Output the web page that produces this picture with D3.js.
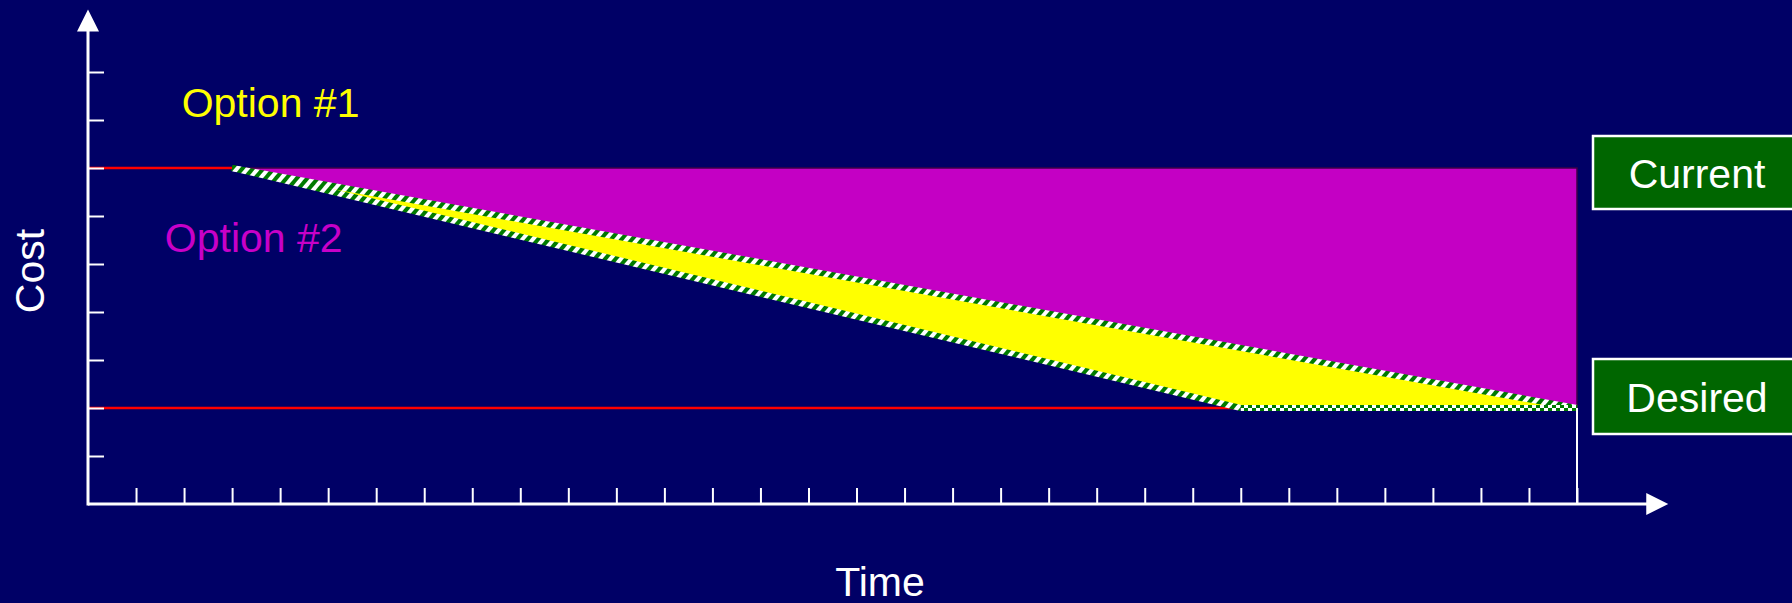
<!DOCTYPE html>
<html>
<head>
<meta charset="utf-8">
<script src="https://cdn.jsdelivr.net/npm/d3@7"></script>
<style>
  html, body { margin: 0; padding: 0; background: #000066; }
  svg { display: block; }
  text { font-family: "Liberation Sans", Arial, sans-serif; }
</style>
</head>
<body>
<svg width="1792" height="603"></svg>
<script>
// values (time units along x, cost units along y)
var timeTicks = [1, 2, 3, 4, 5, 6, 7, 8, 9, 10, 11, 12, 13, 14, 15, 16,
                 17, 18, 19, 20, 21, 22, 23, 24, 25, 26, 27, 28, 29, 30, 31];
var costTicks = [1, 2, 3, 4, 5, 6, 7, 8, 9];
var currentCost = 7;
var desiredCost = 2;
var currentLine = [{t: 0, c: 7}, {t: 3, c: 7}];
var desiredLine = [{t: 0, c: 2}, {t: 24, c: 2}];
var option1 = [{t: 3, c: 7}, {t: 31, c: 2}];
var option2 = [{t: 3, c: 7}, {t: 24, c: 2}, {t: 31, c: 2}];
var currentArea = [{t: 3, c: 7}, {t: 31, c: 7}, {t: 31, c: 2}];
var dropLine = [{t: 31, c: 2}, {t: 31, c: 0}];
var axisEnd = {t: 32.9, c: 10.3};
var optionLabels = [
  {text: "Option #1", t: 1.95, c: 8.06, color: "#ffff00"},
  {text: "Option #2", t: 1.6, c: 5.25, color: "#c800c8"}
];
var targetLabels = [
  {text: "Current", c: currentCost},
  {text: "Desired", c: desiredCost}
];

var svg = d3.select("svg");

var x = d3.scaleLinear().domain([0, 31]).range([88, 1577]);
var y = d3.scaleLinear().domain([0, 10]).range([504, 24]);

var line = d3.line()
    .x(function(d) { return x(d.t); })
    .y(function(d) { return y(d.c); });

var defs = svg.append("defs");

// rope-like green/white stripes for the sloped option lines
var rope = defs.append("pattern")
    .attr("id", "rope")
    .attr("patternUnits", "userSpaceOnUse")
    .attr("width", 8)
    .attr("height", 8)
    .attr("patternTransform", "rotate(40)");
rope.append("rect").attr("width", 8).attr("height", 8).attr("fill", "#007a00");
rope.append("rect").attr("width", 4).attr("height", 8).attr("fill", "#ffffff");

// checker pattern for the flat part
var checker = defs.append("pattern")
    .attr("id", "checker")
    .attr("patternUnits", "userSpaceOnUse")
    .attr("x", 0)
    .attr("y", y(desiredCost) - 3)
    .attr("width", 8)
    .attr("height", 6);
checker.append("rect").attr("width", 8).attr("height", 6).attr("fill", "#ffffff");
checker.append("rect").attr("width", 4).attr("height", 3).attr("fill", "#007a00");
checker.append("rect").attr("x", 4).attr("y", 3).attr("width", 4).attr("height", 3).attr("fill", "#007a00");

// magenta area (option #2 savings) and yellow area (between options)
svg.append("path")
    .datum(currentArea)
    .attr("d", function(d) { return line(d) + "Z"; })
    .attr("fill", "#c400c4")
    .attr("stroke", "#3c0048")
    .attr("stroke-width", 1.5);

svg.append("path")
    .datum(option1.concat(option2.slice().reverse()))
    .attr("d", function(d) { return line(d) + "Z"; })
    .attr("fill", "#ffff00");

// red reference lines
[currentLine, desiredLine].forEach(function(d) {
  svg.append("path")
      .datum(d)
      .attr("d", line)
      .attr("fill", "none")
      .attr("stroke", "#ff0000")
      .attr("stroke-width", 2.5);
});

// hatched option lines, drawn segment by segment
function segments(pts) {
  var out = [];
  for (var i = 1; i < pts.length; i++) out.push([pts[i - 1], pts[i]]);
  return out;
}
svg.append("g")
  .selectAll("path")
  .data(segments(option1).concat(segments(option2)))
  .join("path")
    .attr("d", line)
    .attr("fill", "none")
    .attr("stroke", function(d) { return d[0].c === d[1].c ? "url(#checker)" : "url(#rope)"; })
    .attr("stroke-width", 6);

// drop line to the time axis
svg.append("path")
    .datum(dropLine)
    .attr("d", line)
    .attr("stroke", "#ffffff")
    .attr("stroke-width", 2);

// axes
var xAxis = svg.append("g")
    .attr("transform", "translate(0," + y(0) + ")")
    .call(d3.axisBottom(x).tickValues(timeTicks).tickSize(-16).tickSizeOuter(0).tickFormat(""));
var yAxis = svg.append("g")
    .attr("transform", "translate(" + x(0) + ",0)")
    .call(d3.axisLeft(y).tickValues(costTicks).tickSize(-16).tickSizeOuter(0).tickFormat(""));
[xAxis, yAxis].forEach(function(g) {
  g.select(".domain").remove();
  g.selectAll(".tick line").attr("stroke", "#ffffff").attr("stroke-width", 2);
});

svg.append("line")
    .attr("x1", x(0)).attr("y1", y(0))
    .attr("x2", x(axisEnd.t) - 20).attr("y2", y(0))
    .attr("stroke", "#ffffff").attr("stroke-width", 3);
svg.append("line")
    .attr("x1", x(0)).attr("y1", y(0) + 1.5)
    .attr("x2", x(0)).attr("y2", y(axisEnd.c) + 20)
    .attr("stroke", "#ffffff").attr("stroke-width", 3);

svg.append("path")
    .attr("d", "M" + x(axisEnd.t) + "," + y(0) +
               "L" + (x(axisEnd.t) - 22) + "," + (y(0) - 11) +
               "L" + (x(axisEnd.t) - 22) + "," + (y(0) + 11) + "Z")
    .attr("fill", "#ffffff");
svg.append("path")
    .attr("d", "M" + x(0) + "," + y(axisEnd.c) +
               "L" + (x(0) - 11) + "," + (y(axisEnd.c) + 22) +
               "L" + (x(0) + 11) + "," + (y(axisEnd.c) + 22) + "Z")
    .attr("fill", "#ffffff");

// axis titles
svg.append("text")
    .attr("x", 880).attr("y", 596)
    .attr("text-anchor", "middle")
    .attr("font-size", 41)
    .attr("fill", "#ffffff")
    .text("Time");
svg.append("text")
    .attr("transform", "translate(44," + 271 + ") rotate(-90)")
    .attr("text-anchor", "middle")
    .attr("font-size", 41)
    .attr("fill", "#ffffff")
    .text("Cost");

// option labels
svg.selectAll(".opt")
  .data(optionLabels)
  .join("text")
    .attr("class", "opt")
    .attr("x", function(d) { return x(d.t); })
    .attr("y", function(d) { return y(d.c); })
    .attr("font-size", 41)
    .attr("fill", function(d) { return d.color; })
    .text(function(d) { return d.text; });

// Current / Desired boxes
var boxes = svg.selectAll(".box")
  .data(targetLabels)
  .join("g")
    .attr("class", "box")
    .attr("transform", function(d) {
      return "translate(1593," + (d.c === currentCost ? y(d.c) - 32 : y(d.c) - 49) + ")";
    });
boxes.append("rect")
    .attr("width", 210)
    .attr("height", function(d) { return d.c === currentCost ? 73 : 75; })
    .attr("fill", "#006600")
    .attr("stroke", "#ffffff")
    .attr("stroke-width", 2.5);
boxes.append("text")
    .attr("x", 104)
    .attr("y", function(d) { return d.c === currentCost ? 52 : 53; })
    .attr("text-anchor", "middle")
    .attr("font-size", 41)
    .attr("fill", "#ffffff")
    .text(function(d) { return d.text; });
</script>
</body>
</html>
